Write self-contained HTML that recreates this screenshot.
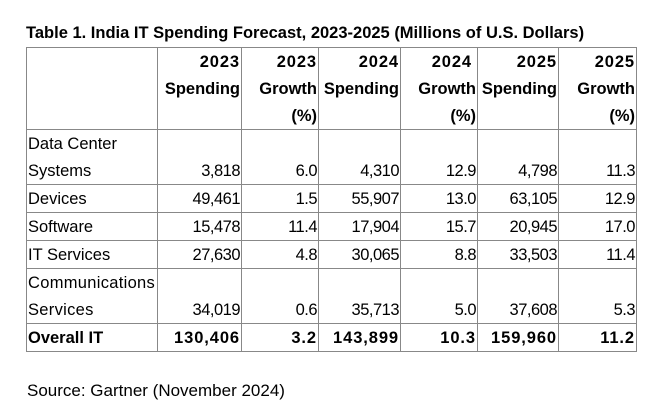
<!DOCTYPE html>
<html>
<head>
<meta charset="utf-8">
<style>
  html,body{margin:0;padding:0;background:#fff;}
  body{width:666px;height:420px;position:relative;overflow:hidden;font-family:"Liberation Sans",Arial,sans-serif;color:#000;}
  .t{position:absolute;left:26px;top:23px;font-size:16.5px;font-weight:bold;line-height:20px;white-space:nowrap;}
  .s{position:absolute;left:27px;top:381px;font-size:17px;line-height:20px;white-space:nowrap;}
  .h{position:absolute;height:1px;background:#888;left:26px;width:611px;}
  .v{position:absolute;width:1px;background:#888;top:47px;height:305px;}
  .c{position:absolute;box-sizing:border-box;font-size:16.5px;line-height:27px;white-space:nowrap;text-align:right;padding-right:1px;}
  .l{text-align:left;padding-left:1px;}
  .b{font-weight:bold;}
  .n{letter-spacing:-0.5px;}
  .bn{letter-spacing:0.9px;font-weight:bold;}
</style>
</head>
<body>
<div class="t">Table 1. India IT Spending Forecast, 2023-2025 (Millions of U.S. Dollars)</div>

<!-- horizontal lines -->
<div class="h" style="top:47px"></div>
<div class="h" style="top:129px"></div>
<div class="h" style="top:184px"></div>
<div class="h" style="top:212px"></div>
<div class="h" style="top:240px"></div>
<div class="h" style="top:268px"></div>
<div class="h" style="top:323px"></div>
<div class="h" style="top:351px"></div>
<!-- vertical lines -->
<div class="v" style="left:26px"></div>
<div class="v" style="left:157px"></div>
<div class="v" style="left:241px"></div>
<div class="v" style="left:318px"></div>
<div class="v" style="left:400px"></div>
<div class="v" style="left:477px"></div>
<div class="v" style="left:558px"></div>
<div class="v" style="left:636px"></div>

<!-- header -->
<div class="c b" style="left:158px;width:83px;top:49px"><span class="bn">2023</span><br>Spending</div>
<div class="c b" style="left:242px;width:76px;top:49px"><span class="bn">2023</span><br>Growth<br>(%)</div>
<div class="c b" style="left:319px;width:81px;top:49px"><span class="bn">2024</span><br>Spending</div>
<div class="c b" style="left:401px;width:76px;top:49px"><span class="bn" style="display:inline-block;margin-right:4px">2024</span><br>Growth<br>(%)</div>
<div class="c b" style="left:478px;width:80px;top:49px"><span class="bn">2025</span><br>Spending</div>
<div class="c b" style="left:559px;width:77px;top:49px"><span class="bn">2025</span><br>Growth<br>(%)</div>

<!-- Data Center Systems -->
<div class="c l" style="left:27px;width:130px;top:131px">Data Center<br>Systems</div>
<div class="c n" style="left:158px;width:83px;top:158px">3,818</div>
<div class="c n" style="left:242px;width:76px;top:158px">6.0</div>
<div class="c n" style="left:319px;width:81px;top:158px">4,310</div>
<div class="c n" style="left:401px;width:76px;top:158px">12.9</div>
<div class="c n" style="left:478px;width:80px;top:158px">4,798</div>
<div class="c n" style="left:559px;width:77px;top:158px">11.3</div>

<!-- Devices -->
<div class="c l" style="left:27px;width:130px;top:186px">Devices</div>
<div class="c n" style="left:158px;width:83px;top:186px">49,461</div>
<div class="c n" style="left:242px;width:76px;top:186px">1.5</div>
<div class="c n" style="left:319px;width:81px;top:186px">55,907</div>
<div class="c n" style="left:401px;width:76px;top:186px">13.0</div>
<div class="c n" style="left:478px;width:80px;top:186px">63,105</div>
<div class="c n" style="left:559px;width:77px;top:186px">12.9</div>

<!-- Software -->
<div class="c l" style="left:27px;width:130px;top:214px">Software</div>
<div class="c n" style="left:158px;width:83px;top:214px">15,478</div>
<div class="c n" style="left:242px;width:76px;top:214px">11.4</div>
<div class="c n" style="left:319px;width:81px;top:214px">17,904</div>
<div class="c n" style="left:401px;width:76px;top:214px">15.7</div>
<div class="c n" style="left:478px;width:80px;top:214px">20,945</div>
<div class="c n" style="left:559px;width:77px;top:214px">17.0</div>

<!-- IT Services -->
<div class="c l" style="left:27px;width:130px;top:242px">IT Services</div>
<div class="c n" style="left:158px;width:83px;top:242px">27,630</div>
<div class="c n" style="left:242px;width:76px;top:242px">4.8</div>
<div class="c n" style="left:319px;width:81px;top:242px">30,065</div>
<div class="c n" style="left:401px;width:76px;top:242px">8.8</div>
<div class="c n" style="left:478px;width:80px;top:242px">33,503</div>
<div class="c n" style="left:559px;width:77px;top:242px">11.4</div>

<!-- Communications Services -->
<div class="c l" style="left:27px;width:130px;top:270px;letter-spacing:0.3px">Communications<br>Services</div>
<div class="c n" style="left:158px;width:83px;top:297px">34,019</div>
<div class="c n" style="left:242px;width:76px;top:297px">0.6</div>
<div class="c n" style="left:319px;width:81px;top:297px">35,713</div>
<div class="c n" style="left:401px;width:76px;top:297px">5.0</div>
<div class="c n" style="left:478px;width:80px;top:297px">37,608</div>
<div class="c n" style="left:559px;width:77px;top:297px">5.3</div>

<!-- Overall IT -->
<div class="c l b" style="left:27px;width:130px;top:325px">Overall IT</div>
<div class="c bn" style="left:158px;width:83px;top:325px">130,406</div>
<div class="c bn" style="left:242px;width:76px;top:325px">3.2</div>
<div class="c bn" style="left:319px;width:81px;top:325px">143,899</div>
<div class="c bn" style="left:401px;width:76px;top:325px">10.3</div>
<div class="c bn" style="left:478px;width:80px;top:325px">159,960</div>
<div class="c bn" style="left:559px;width:77px;top:325px">11.2</div>

<div class="s">Source: Gartner (November 2024)</div>
</body>
</html>
